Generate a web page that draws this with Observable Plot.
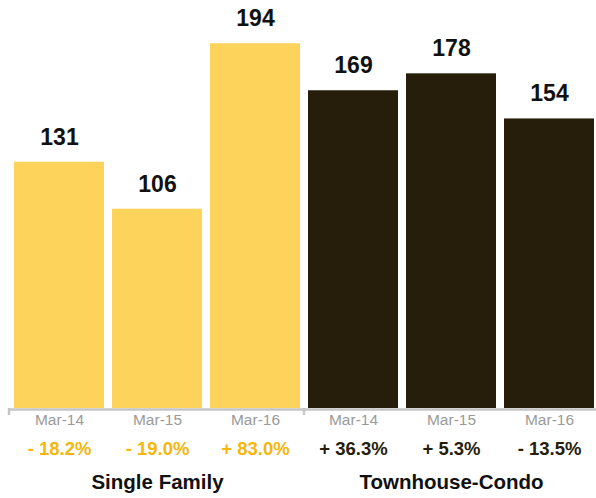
<!DOCTYPE html>
<html>
<head>
<meta charset="utf-8">
<script src="https://cdn.jsdelivr.net/npm/d3@7"></script>
<script src="https://cdn.jsdelivr.net/npm/@observablehq/plot@0.6"></script>
<style>
  html, body { margin: 0; padding: 0; background: #fff; }
  #chart svg { display: block; }
</style>
</head>
<body>
<div id="chart"></div>
<script>
const groups = ["Single Family", "Single Family", "Single Family", "Townhouse-Condo", "Townhouse-Condo", "Townhouse-Condo"];
const periods = ["Mar-14", "Mar-15", "Mar-16", "Mar-14", "Mar-15", "Mar-16"];
const values = [131, 106, 194, 169, 178, 154];
const changes = ["- 18.2%", "- 19.0%", "+ 83.0%", "+ 36.3%", "+ 5.3%", "- 13.5%"];
const groupNames = ["Single Family", "Townhouse-Condo"];
const groupColors = ["#fdd35b", "#261d0a"];
const changeColors = ["#f6b60c", "#261d0a"];

const data = values.map((v, i) => ({
  key: "k" + i,
  group: groups[i],
  period: periods[i],
  value: v,
  change: changes[i]
}));
const keys = data.map(d => d.key);

// group label anchors: middle bar of each group
const groupLabels = groupNames.map((g, gi) => ({key: "k" + (gi * 3 + 1), group: g}));
const font = "'Liberation Sans', Arial, Helvetica, sans-serif";

const chart = Plot.plot({
  width: 596,
  height: 498,
  marginTop: 0,
  marginLeft: 13,
  marginRight: 0,
  marginBottom: 90,
  style: {fontFamily: font, background: "#fff"},
  x: {domain: keys, paddingInner: 0.081, paddingOuter: 0, axis: null},
  y: {type: "linear", domain: [0, 217], axis: null},
  color: {domain: groupNames, range: groupColors},
  marks: [
    Plot.barY(data, {x: "key", y: "value", fill: "group"}),
    Plot.ruleY([0], {stroke: "#c4c4c4", strokeWidth: 2.5, insetLeft: -5, dy: 1}),
    Plot.text(data, {x: "key", y: "value", text: d => String(d.value), dy: -25, fontSize: 23, fontWeight: "bold", fill: "#111"}),
    Plot.text(data, {x: "key", frameAnchor: "bottom", text: "period", dy: 16, fontSize: 15.5, fill: "#9a9a9a"}),
    Plot.text(data, {x: "key", frameAnchor: "bottom", text: "change", dy: 46, fontSize: 18.5, fontWeight: "bold",
      fill: d => changeColors[groupNames.indexOf(d.group)]}),
    Plot.text(groupLabels, {x: "key", frameAnchor: "bottom", text: "group", dy: 80, fontSize: 20.5, fontWeight: "bold", fill: "#111"})
  ]
});
document.getElementById("chart").appendChild(chart);

// small separator ticks below the axis line, positioned via the x scale
const xs = chart.scale("x");
const ys = chart.scale("y");
const svg = d3.select(chart);
const y0 = ys.apply(0);
const tickXs = [xs.apply(keys[0]) - 5, (xs.apply(keys[2]) + xs.bandwidth + xs.apply(keys[3])) / 2];
svg.selectAll("line.sep").data(tickXs).join("line")
  .attr("class", "sep")
  .attr("x1", d => d).attr("x2", d => d)
  .attr("y1", y0).attr("y2", y0 + 7)
  .attr("stroke", "#c4c4c4").attr("stroke-width", 2.5);
</script>
</body>
</html>
